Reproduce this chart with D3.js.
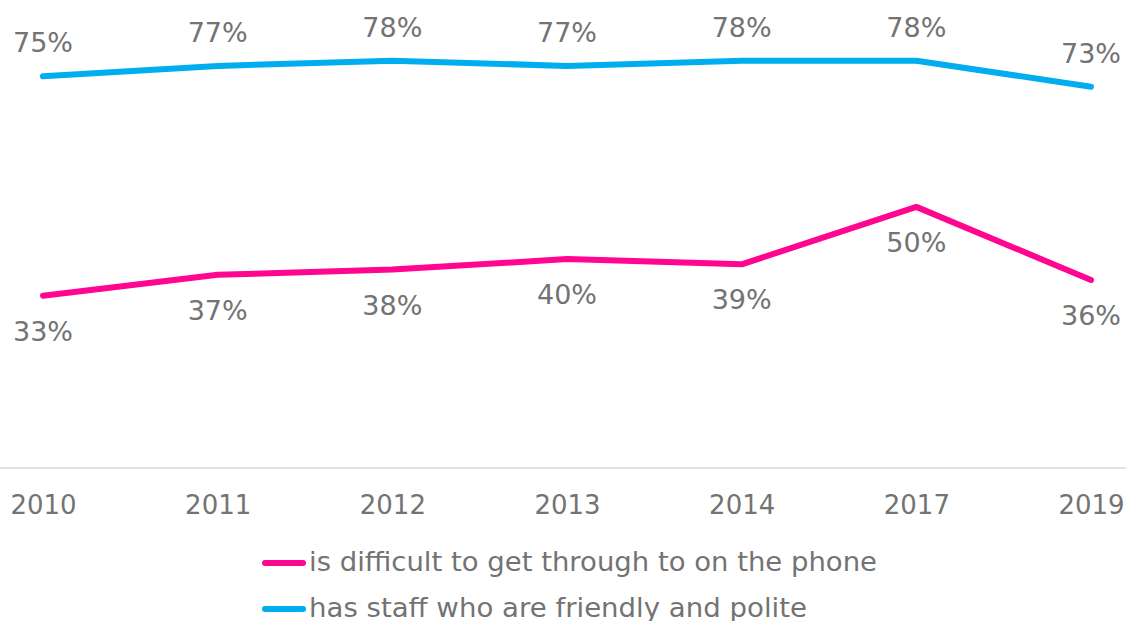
<!DOCTYPE html>
<html>
<head>
<meta charset="utf-8">
<script src="https://cdnjs.cloudflare.com/ajax/libs/d3/7.8.5/d3.min.js"></script>
<style>
  body { margin: 0; background: #fff; }
  svg text { font-family: "DejaVu Sans", Verdana, sans-serif; fill: #737373; }
</style>
</head>
<body>
<svg id="chart" width="1126" height="621"></svg>
<script>
// data
var years = ["2010", "2011", "2012", "2013", "2014", "2017", "2019"];
var difficultPhone = [33, 37, 38, 40, 39, 50, 36];
var friendlyStaff = [75, 77, 78, 77, 78, 78, 73];
var seriesNames = ["is difficult to get through to on the phone", "has staff who are friendly and polite"];
var seriesColors = ["#ff0590", "#00aeef"];

var svg = d3.select("#chart");

var x = d3.scalePoint().domain(years).range([43, 1091]);
var y = d3.scaleLinear().domain([0, 90]).range([468, -2]);

// baseline
svg.append("line")
    .attr("x1", 0).attr("x2", 1126)
    .attr("y1", y(0)).attr("y2", y(0))
    .attr("stroke", "#e3e3e3").attr("stroke-width", 2);

// x axis labels
var xAxis = d3.axisBottom(x).tickSize(0).tickPadding(0);
var gx = svg.append("g").attr("transform", "translate(0," + y(0) + ")").call(xAxis);
gx.select(".domain").remove();
gx.selectAll("text")
    .attr("dy", null).attr("y", 46)
    .style("font-size", "26px")
    .style("font-family", "'DejaVu Sans', Verdana, sans-serif")
    .attr("fill", "#737373");

var line = d3.line()
    .x(function (d, i) { return x(years[i]) })
    .y(function (d) { return y(d) });

var allSeries = [difficultPhone, friendlyStaff];
allSeries.forEach(function (vals, k) {
    svg.append("path")
        .datum(vals)
        .attr("d", line)
        .attr("fill", "none")
        .attr("stroke", seriesColors[k])
        .attr("stroke-width", 6)
        .attr("stroke-linecap", "round")
        .attr("stroke-linejoin", "round");

    svg.selectAll("text.lab" + k)
        .data(vals)
        .enter()
        .append("text")
        .attr("class", "lab" + k)
        .attr("text-anchor", "middle")
        .attr("x", function (d, i) { return x(years[i]) })
        .attr("y", function (d) { return k == 0 ? y(d) + 45 : y(d) - 24 })
        .style("font-size", "27px")
        .text(function (d) { return d + "%" });
});

// legend
var legendY = [563, 609];
var legendW = [568, 498];
seriesNames.forEach(function (name, k) {
    svg.append("line")
        .attr("x1", 265).attr("x2", 303)
        .attr("y1", legendY[k]).attr("y2", legendY[k])
        .attr("stroke", seriesColors[k])
        .attr("stroke-width", 6)
        .attr("stroke-linecap", "round");
    svg.append("text")
        .attr("x", 309)
        .attr("y", legendY[k] + 8)
        .attr("textLength", legendW[k])
        .attr("lengthAdjust", "spacingAndGlyphs")
        .style("font-size", "26px")
        .text(name);
});
</script>
</body>
</html>
